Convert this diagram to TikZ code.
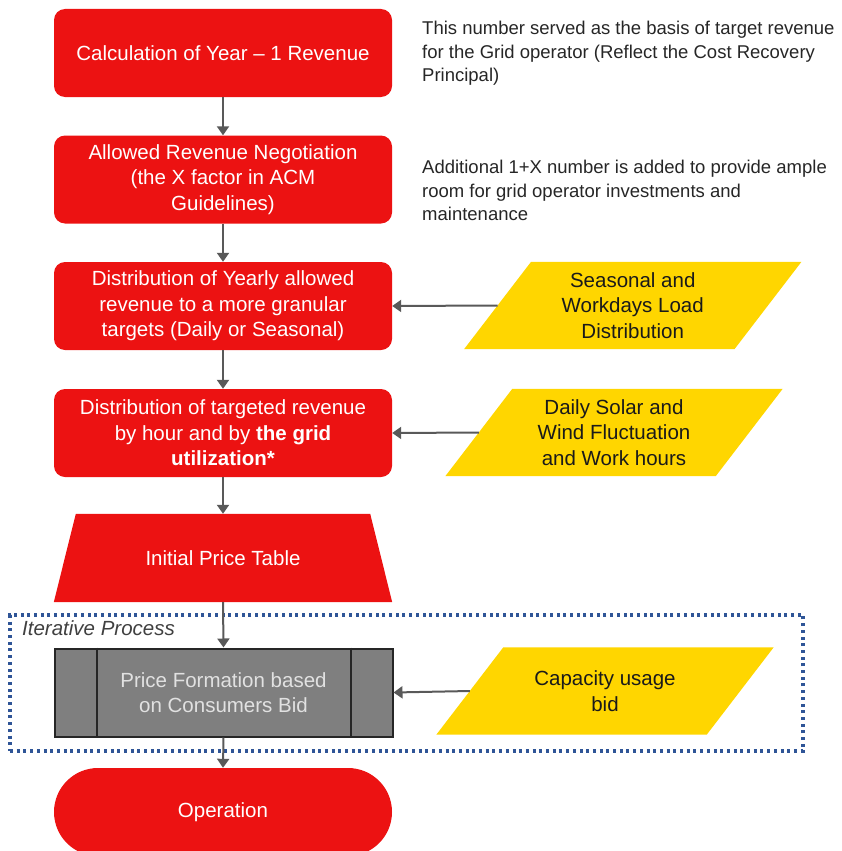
\documentclass[tikz,border=0pt]{standalone}
\usepackage{fontspec}
\setmainfont{Liberation Sans}
\usetikzlibrary{arrows.meta,calc,backgrounds}
\definecolor{boxred}{RGB}{236,18,18}
\definecolor{ylw}{RGB}{255,214,0}
\definecolor{arr}{RGB}{89,89,89}
\definecolor{gbox}{RGB}{127,127,127}
\definecolor{gline}{RGB}{38,38,38}
\definecolor{dotblue}{RGB}{47,85,151}
\definecolor{note}{RGB}{38,38,38}
\begin{document}
\begin{tikzpicture}[x=1pt,y=-1pt,
  boxfont/.style={font=\fontsize{20.5}{25.5}\selectfont},
  redbox/.style={rectangle, rounded corners=11pt, fill=boxred, text=white, minimum width=338pt, minimum height=88pt, inner sep=0pt, align=center, boxfont},
  plainbox/.style={rectangle, minimum width=338pt, minimum height=88pt, inner sep=0pt, align=center, boxfont, text=white},
  ylwbox/.style={rectangle, minimum width=270pt, minimum height=87pt, inner sep=0pt, align=center, boxfont, text={rgb,255:red,26;green,26;blue,26}},
  notetext/.style={anchor=north west, inner sep=0pt, align=left, text=note, font=\fontsize{18.5}{23.5}\selectfont},
  conn/.style={draw=arr, line width=2pt, -{Triangle[width=12pt,length=9pt]}},
]
\useasboundingbox (0,0) rectangle (841,851);

% dotted iterative container
\node[draw=dotblue, line width=3.2pt, dash pattern=on 3pt off 3.7pt, rectangle, minimum width=793pt, minimum height=136pt, inner sep=0pt] (iter) at (406.5,683) {};
\node[anchor=west, inner sep=0pt, text={rgb,255:red,64;green,64;blue,64}, font=\fontsize{20.5}{24}\selectfont\itshape] (itlabel) at (22,628) {Iterative Process};

% main flow
\node[redbox] (b1) at (223,53) {Calculation of Year -- 1 Revenue};
\node[redbox] (b2) at (223,179.5) {Allowed Revenue Negotiation\\(the X factor in ACM\\Guidelines)};
\node[redbox] (b3) at (223,306) {Distribution of Yearly allowed\\revenue to a more granular\\targets (Daily or Seasonal)};
\node[redbox] (b4) at (223,433) {Distribution of targeted revenue\\by hour and by \textbf{the grid}\\\textbf{utilization*}};
\node[plainbox] (tri) at (223,558) {Initial Price Table};
\node[rectangle, fill=gbox, draw=gline, line width=2pt, minimum width=338pt, minimum height=88pt, inner sep=0pt, align=center, boxfont, text={rgb,255:red,225;green,225;blue,225}] (g) at (223.5,692.5) {Price Formation based\\on Consumers Bid};
\draw[gline, line width=2pt] ($(g.north west)+(43,0)$) -- ($(g.south west)+(43,0)$);
\draw[gline, line width=2pt] ($(g.north east)+(-43,0)$) -- ($(g.south east)+(-43,0)$);
\node[redbox, rounded corners=44pt, minimum height=88pt] (op) at (223,812) {Operation};

% inputs
\node[ylwbox] (p1) at (632.75,305.5) {Seasonal and\\Workdays Load\\Distribution};
\node[ylwbox] (p2) at (614,432.5) {Daily Solar and\\Wind Fluctuation\\and Work hours};
\node[ylwbox] (p3) at (605,691) {Capacity usage\\bid};

% notes
\node[notetext] (n1) at (422,21) {This number served as the basis of target revenue\\for the Grid operator (Reflect the Cost Recovery\\Principal)};
\node[notetext] (n2) at (422,160) {Additional 1+X number is added to provide ample\\room for grid operator investments and\\maintenance};

% shapes behind
\begin{scope}[on background layer]
  \fill[boxred] ($(tri.north west)+(22,0)$) -- ($(tri.north east)+(-22,0)$) -- (tri.south east) -- (tri.south west) -- cycle;
  \foreach \p in {p1,p2,p3}{
    \fill[ylw] ($(\p.north west)+(33.5,0)$) -- ($(\p.north east)+(33.5,0)$) -- ($(\p.south east)+(-33.5,0)$) -- ($(\p.south west)+(-33.5,0)$) -- cycle;
  }
\end{scope}

% connectors
\draw[conn] (b1.south) -- (b2.north);
\draw[conn] (b2.south) -- (b3.north);
\draw[conn] (b3.south) -- (b4.north);
\draw[conn] (b4.south) -- (tri.north);
\draw[conn] (tri.south) -- (g.north);
\draw[conn] (g.south) -- (op.north);
\draw[conn] (p1.west) -- (b3.east);
\draw[conn] (p2.west) -- (b4.east);
\draw[conn] (p3.west) -- (g.east);
\end{tikzpicture}
\end{document}
